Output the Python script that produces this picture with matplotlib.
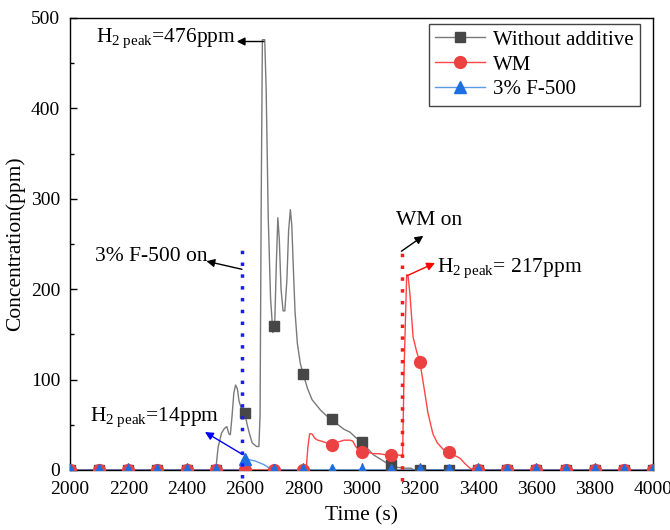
import numpy as np
from matplotlib import pyplot as plt
from matplotlib.ticker import MultipleLocator

plt.rcParams["font.family"] = ["Liberation Serif", "DejaVu Serif"]
plt.rcParams["mathtext.fontset"] = "custom"
plt.rcParams["mathtext.rm"] = "Liberation Serif"
plt.rcParams["mathtext.it"] = "Liberation Serif:italic"

# Kurve ohne Additiv
t_none = [2000, 2500, 2508, 2520, 2530, 2538, 2545, 2550, 2556, 2562, 2568, 2574,
          2580, 2590, 2600, 2608, 2615, 2625, 2640, 2648, 2652, 2656, 2660, 2668,
          2673, 2680, 2688, 2696, 2702, 2708, 2713, 2718, 2724, 2731, 2737, 2744,
          2750, 2756, 2761, 2766, 2772, 2780, 2790, 2800, 2815, 2830, 2845, 2860,
          2880, 2900, 2920, 2940, 2960, 2980, 3000, 3020, 3040, 3060, 3080, 3100,
          3120, 3150, 3170, 3180, 4000]
v_none = [0, 0, 25, 41, 46, 48, 40, 39, 60, 85, 94, 90,
          76, 66, 62, 50, 41, 30, 26, 26, 60, 300, 476, 476,
          420, 280, 190, 152, 158, 230, 279, 255, 200, 176, 176, 210,
          265, 288, 270, 225, 175, 140, 118, 106, 90, 78, 72, 66,
          60, 56, 50, 45, 42, 36, 31, 24, 17, 13, 9, 6,
          3, 2, 2, 0, 0]

# Kurve WM
t_wm = [2000, 2810, 2816, 2822, 2830, 2840, 2850, 2862, 2880, 2900, 2920, 2940,
        2960, 2970, 2980, 2990, 3000, 3020, 3040, 3060, 3080, 3100, 3120, 3135,
        3141, 3146, 3155, 3160, 3166, 3177, 3190, 3200, 3215, 3228, 3245, 3260,
        3280, 3300, 3320, 3338, 3355, 3372, 3390, 4000]
v_wm = [0, 0, 25, 40, 40, 35, 33, 32, 30, 28, 31, 33,
        33, 32, 26, 22, 21, 20, 18, 18, 17, 17, 17, 16,
        17, 110, 216, 214, 195, 147, 130, 120, 90, 63, 40, 30,
        23, 20, 16, 13, 7, 2, 0, 0]

# Kurve 3% F-500
t_f500 = [2000, 2582, 2590, 2597, 2605, 2620, 2635, 2650, 2665, 2680, 2692, 4000]
v_f500 = [0, 0, 10, 14, 12, 11, 10, 8, 6, 3, 0, 0]

# Symbole alle 100 s
t_mark = list(range(2000, 4001, 100))
m_none = [0, 0, 0, 0, 0, 0, 63, 159, 106, 56, 31, 6, 0, 0, 0, 0, 0, 0, 0, 0, 0]
m_wm = [0, 0, 0, 0, 0, 0, 0, 0, 0, 28, 20, 17, 120, 20, 0, 0, 0, 0, 0, 0, 0]
m_f500 = [0, 0, 0, 0, 0, 0, 12, 0, 0, 0, 0, 0, 0, 0, 0, 0, 0, 0, 0, 0, 0]

f500_on = 2591
wm_on = 3138

fig = plt.figure(figsize=(6.7, 5.3), dpi=100)
ax = fig.add_axes([70 / 670, 60 / 530, 583 / 670, 452 / 530])

# Linien
ax.plot(t_none, v_none, color="#7a7a7a", lw=1.0, zorder=2)
ax.plot(t_wm, v_wm, color="#ff4545", lw=1.0, zorder=2)
ax.plot(t_f500, v_f500, color="#5a9ae6", lw=1.0, zorder=2)

# Symbole
ax.plot(t_mark, m_none, ls="none", marker="s", ms=7, color="#474747", zorder=3)
ax.plot(t_mark, m_wm, ls="none", marker="o", ms=8.5, color="#eb4141", zorder=4)
ax.plot(t_mark, m_f500, ls="none", marker="^", ms=8.5, color="#1e6ee1", zorder=5)

# Legende
h1, = ax.plot([], [], color="#7a7a7a", lw=1.0, marker="s", ms=7,
              mfc="#474747", mec="#474747", label="Without additive")
h2, = ax.plot([], [], color="#ff4545", lw=1.0, marker="o", ms=8.5,
              mfc="#eb4141", mec="#eb4141", label="WM")
h3, = ax.plot([], [], color="#5a9ae6", lw=1.0, marker="^", ms=8.5,
              mfc="#1e6ee1", mec="#1e6ee1", label="3% F-500")
leg = ax.legend(handles=[h1, h2, h3], loc="upper right",
                bbox_to_anchor=(0.978, 0.987), borderaxespad=0, fontsize=15,
                handlelength=2.4, labelspacing=0.25, borderpad=0.3,
                handletextpad=0.4, fancybox=False, framealpha=1)
leg.get_frame().set_edgecolor("#444444")
leg.get_frame().set_linewidth(1.0)

# Einschaltzeitpunkte
ax.plot([f500_on, f500_on], [-9, 252], color="#1a1aff", lw=2.5,
        ls=(0, (1, 2.4)), clip_on=False, zorder=6)
ax.plot([wm_on, wm_on], [-12, 242], color="#ff1a1a", lw=2.5,
        ls=(0, (1, 2.4)), clip_on=False, zorder=6)

# Beschriftungen
fs = 15.5
arrow = dict(arrowstyle="-|>", lw=1.0, mutation_scale=12, shrinkA=0, shrinkB=0)

ax.text(2089, 478, r"H$_{\mathrm{2\ peak}}$=476ppm", fontsize=fs, va="center")
ax.annotate("", xy=(2572, 474), xytext=(2665, 474),
            arrowprops=dict(arrow, color="black"))

ax.text(2086, 236, "3% F-500 on", fontsize=fs, va="center")
ax.annotate("", xy=(2468, 231), xytext=(2590, 222),
            arrowprops=dict(arrow, color="black"))

ax.text(3118, 276, "WM on", fontsize=fs, va="center")
ax.annotate("", xy=(3212, 259), xytext=(3137, 242),
            arrowprops=dict(arrow, color="black"))

ax.text(3259, 223, r"H$_{\mathrm{2\ peak}}$= 217ppm", fontsize=fs, va="center")
ax.annotate("", xy=(3252, 229), xytext=(3157, 215),
            arrowprops=dict(arrow, color="red"))

ax.text(2069, 58, r"H$_{\mathrm{2\ peak}}$=14ppm", fontsize=fs, va="center")
ax.annotate("", xy=(2463, 42), xytext=(2593, 17),
            arrowprops=dict(arrow, color="blue"))

# Achsen
ax.set_xlim(2000, 4000)
ax.set_ylim(0, 500)
ax.xaxis.set_major_locator(MultipleLocator(200))
ax.xaxis.set_minor_locator(MultipleLocator(100))
ax.yaxis.set_major_locator(MultipleLocator(100))
ax.yaxis.set_minor_locator(MultipleLocator(50))
ax.tick_params(which="both", direction="in", width=1.0, labelsize=14)
ax.tick_params(axis="x", which="major", length=5, pad=8)
ax.tick_params(axis="y", which="major", length=5, pad=7)
ax.tick_params(which="minor", length=3)
for sp in ax.spines.values():
    sp.set_linewidth(1.0)

ax.set_xlabel("Time (s)", fontsize=15.5, labelpad=6)
ax.set_ylabel("Concentration(ppm)", fontsize=15.5, labelpad=4)

fig.savefig("out.png", dpi=100)
